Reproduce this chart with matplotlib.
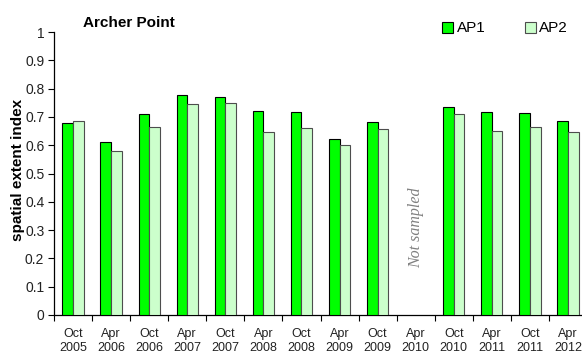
import numpy as np
import matplotlib
matplotlib.use("Agg")
import matplotlib.pyplot as plt
from matplotlib.patches import Patch

plt.rcParams['font.family'] = ['Liberation Sans', 'DejaVu Sans']

months = ["Oct", "Apr", "Oct", "Apr", "Oct", "Apr", "Oct", "Apr", "Oct",
          "Apr", "Oct", "Apr", "Oct", "Apr"]
years = ["2005", "2006", "2006", "2007", "2007", "2008", "2008", "2009", "2009",
         "2010", "2010", "2011", "2011", "2012"]
ap1 = [0.677, 0.613, 0.711, 0.776, 0.770, 0.722, 0.718, 0.621, 0.683,
       np.nan, 0.736, 0.718, 0.715, 0.686]
ap2 = [0.686, 0.580, 0.663, 0.745, 0.749, 0.645, 0.660, 0.601, 0.656,
       np.nan, 0.711, 0.649, 0.666, 0.645]

fig = plt.figure(figsize=(5.82, 3.53), dpi=100)
ax = fig.add_axes([54 / 582, 1 - 315 / 353, 533 / 582, 283 / 353])

x = np.arange(len(months))
w = 0.28
ax.bar(x - w / 2, ap1, w, color="#00ff00", edgecolor="#000000", linewidth=0.8, zorder=3)
ax.bar(x + w / 2, ap2, w, color="#ccffcc", edgecolor="#4d4d4d", linewidth=0.8, zorder=3)

ax.set_xlim(-0.5, len(months) - 0.5)
ax.set_ylim(0, 1)
ax.set_yticks(np.arange(0, 1.01, 0.1))
ax.set_yticklabels(["0", "0.1", "0.2", "0.3", "0.4", "0.5", "0.6", "0.7", "0.8", "0.9", "1"],
                   fontsize=10, color="#222222")

# category labels centred, tick marks on the category boundaries
ax.set_xticks(np.arange(-0.5, len(months), 1.0))
ax.set_xticklabels([])
ax.set_xticks(x, minor=True)
ax.set_xticklabels([f"{m}\n{y}" for m, y in zip(months, years)], minor=True,
                   fontsize=9, color="#222222", linespacing=1.22)
ax.tick_params(axis="x", which="minor", length=0, pad=9.5)
ax.tick_params(axis="x", which="major", direction="out", length=4, width=0.8)
ax.tick_params(axis="y", direction="out", length=4, width=0.8, pad=3)

for s in ["top", "right"]:
    ax.spines[s].set_visible(False)
ax.spines["left"].set_linewidth(0.9)
ax.spines["bottom"].set_linewidth(0.9)

fig.text(18.5 / 582, 1 - 170 / 353, "spatial extent index", rotation=90,
         fontsize=11, fontweight="bold", ha="center", va="center")
fig.text(83 / 582, 1 - 23 / 353, "Archer Point", fontsize=11, fontweight="bold",
         ha="left", va="center")

ax.text(9, 0.31, "Not sampled", rotation=90, ha="center", va="center",
        fontsize=11.5, style="italic", family="Liberation Serif", color="#808080")

handles = [Patch(facecolor="#00ff00", edgecolor="#000000", linewidth=0.8, label="AP1"),
           Patch(facecolor="#ccffcc", edgecolor="#4d4d4d", linewidth=0.8, label="AP2")]
fig.legend(handles=handles, loc="center left", bbox_to_anchor=(442 / 582, 1 - 28.5 / 353),
           ncol=2, frameon=False, fontsize=11, handlelength=0.72, handleheight=0.72,
           handletextpad=0.25, columnspacing=2.55, borderaxespad=0, borderpad=0)

fig.savefig("out.png", dpi=100)
